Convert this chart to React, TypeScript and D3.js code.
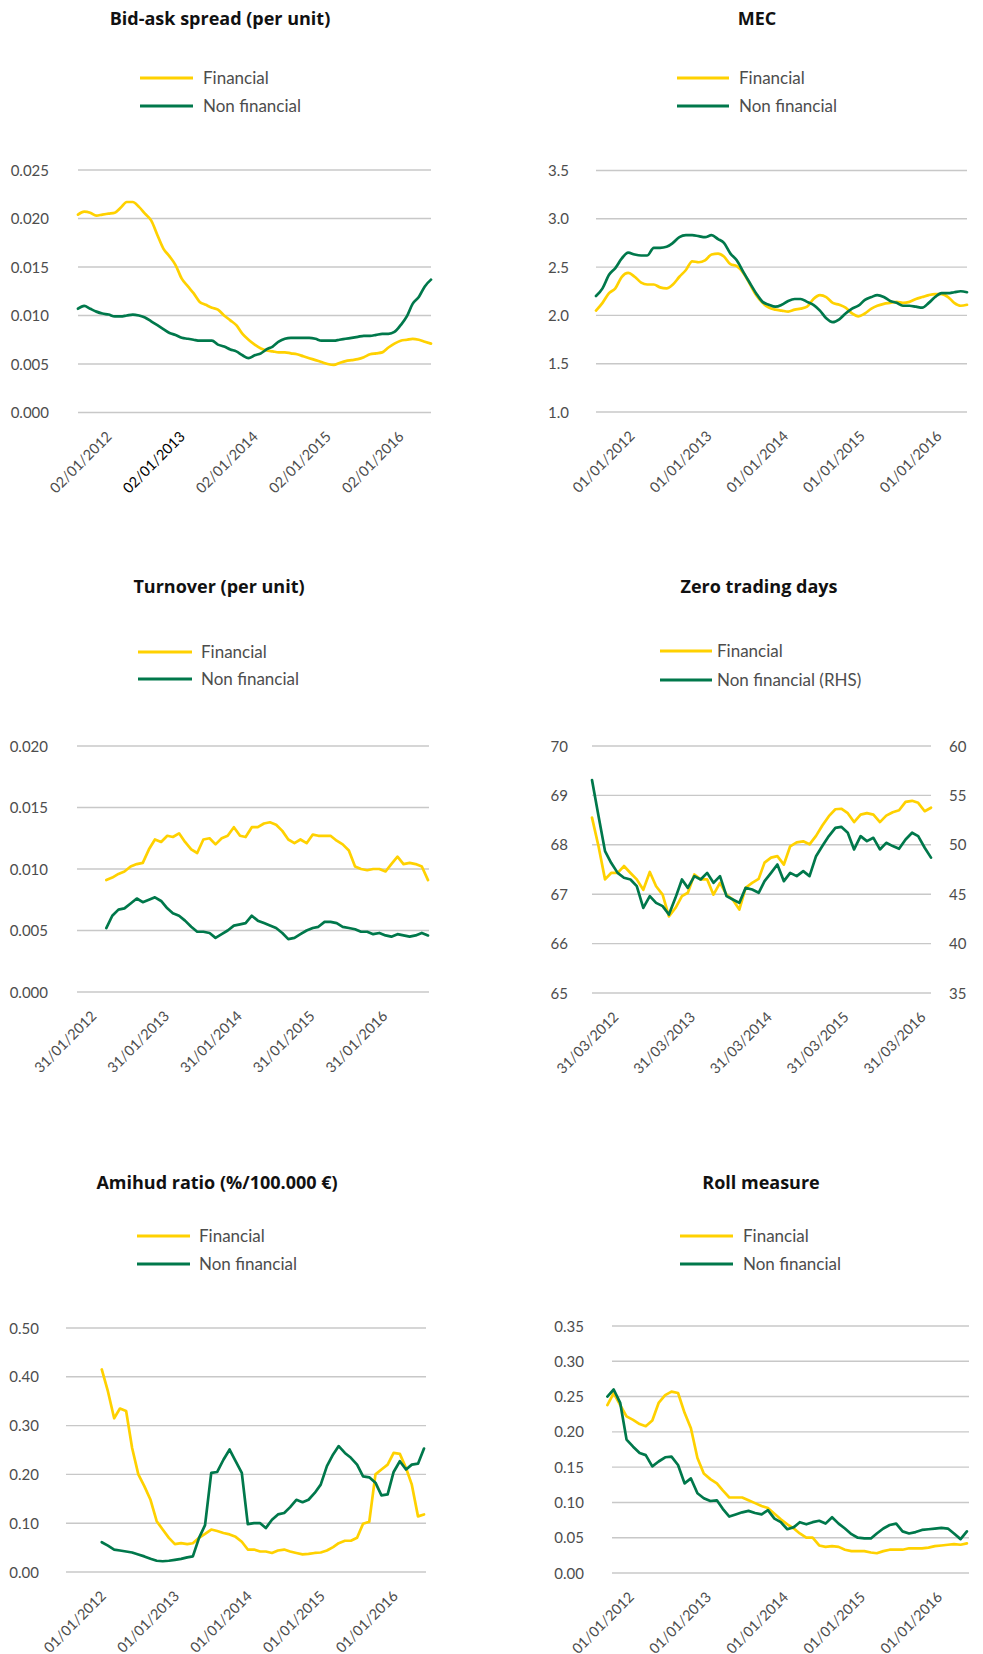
import React from 'react';
import * as d3 from 'd3';

const YELLOW = '#ffd100';
const GREEN = '#00784b';
const GRID = '#c8c8c8';
const FONT = 'Lato, "Open Sans", sans-serif';

// ---- Bid-ask spread (monthly) ----
const bidAskXLabels = ['02/01/2012', '02/01/2013', '02/01/2014', '02/01/2015', '02/01/2016'];
const bidAskYTicks = [0, 0.005, 0.01, 0.015, 0.02, 0.025];
const bidAskFinancial = [0.0204, 0.0207, 0.0206, 0.0203, 0.0204, 0.0205, 0.0206, 0.0211, 0.0217, 0.0217, 0.0212, 0.0205, 0.0198, 0.0183, 0.0169, 0.0161, 0.0152, 0.0138, 0.0130, 0.0123, 0.0114, 0.0111, 0.0108, 0.0106, 0.0100, 0.0095, 0.0090, 0.0081, 0.0075, 0.0070, 0.0066, 0.0064, 0.0063, 0.0062, 0.0062, 0.0061, 0.0060, 0.0058, 0.0056, 0.0054, 0.0052, 0.0050, 0.0049, 0.0051, 0.0053, 0.0054, 0.0055, 0.0057, 0.0060, 0.0061, 0.0062, 0.0067, 0.0071, 0.0074, 0.0075, 0.0076, 0.0075, 0.0073, 0.0071];
const bidAskNonFinancial = [0.0107, 0.0110, 0.0107, 0.0104, 0.0102, 0.0101, 0.0099, 0.0099, 0.0100, 0.0101, 0.0100, 0.0098, 0.0094, 0.0090, 0.0086, 0.0082, 0.0080, 0.0077, 0.0076, 0.0075, 0.0074, 0.0074, 0.0074, 0.0070, 0.0068, 0.0065, 0.0063, 0.0059, 0.0056, 0.0059, 0.0061, 0.0065, 0.0068, 0.0073, 0.0076, 0.0077, 0.0077, 0.0077, 0.0077, 0.0076, 0.0074, 0.0074, 0.0074, 0.0075, 0.0076, 0.0077, 0.0078, 0.0079, 0.0079, 0.0080, 0.0081, 0.0081, 0.0083, 0.0090, 0.0099, 0.0112, 0.0119, 0.0130, 0.0137];

// ---- MEC (monthly) ----
const mecXLabels = ['01/01/2012', '01/01/2013', '01/01/2014', '01/01/2015', '01/01/2016'];
const mecYTicks = [1.0, 1.5, 2.0, 2.5, 3.0, 3.5];
const mecFinancial = [2.05, 2.13, 2.23, 2.28, 2.40, 2.44, 2.40, 2.34, 2.32, 2.32, 2.29, 2.28, 2.32, 2.40, 2.47, 2.56, 2.55, 2.57, 2.63, 2.64, 2.61, 2.53, 2.51, 2.44, 2.33, 2.21, 2.13, 2.08, 2.06, 2.05, 2.04, 2.06, 2.07, 2.09, 2.17, 2.21, 2.19, 2.13, 2.11, 2.08, 2.02, 1.99, 2.02, 2.07, 2.10, 2.12, 2.13, 2.14, 2.13, 2.14, 2.17, 2.19, 2.21, 2.22, 2.22, 2.19, 2.13, 2.10, 2.11];
const mecNonFinancial = [2.20, 2.28, 2.42, 2.49, 2.59, 2.65, 2.63, 2.62, 2.62, 2.70, 2.70, 2.71, 2.75, 2.81, 2.83, 2.83, 2.82, 2.81, 2.83, 2.79, 2.75, 2.64, 2.57, 2.45, 2.34, 2.23, 2.14, 2.11, 2.09, 2.11, 2.15, 2.17, 2.17, 2.14, 2.11, 2.05, 1.97, 1.93, 1.96, 2.02, 2.07, 2.10, 2.16, 2.19, 2.21, 2.19, 2.15, 2.13, 2.10, 2.10, 2.09, 2.08, 2.13, 2.19, 2.23, 2.23, 2.24, 2.25, 2.24];

// ---- Turnover (monthly) ----
const turnoverXLabels = ['31/01/2012', '31/01/2013', '31/01/2014', '31/01/2015', '31/01/2016'];
const turnoverYTicks = [0, 0.005, 0.01, 0.015, 0.02];
const turnoverFinancial = [0.0091, 0.0093, 0.0096, 0.0098, 0.0102, 0.0104, 0.0105, 0.0116, 0.0124, 0.0122, 0.0127, 0.0126, 0.0129, 0.0122, 0.0116, 0.0113, 0.0124, 0.0125, 0.0120, 0.0125, 0.0127, 0.0134, 0.0127, 0.0126, 0.0134, 0.0134, 0.0137, 0.0138, 0.0136, 0.0131, 0.0124, 0.0121, 0.0124, 0.0121, 0.0128, 0.0127, 0.0127, 0.0127, 0.0123, 0.0120, 0.0115, 0.0102, 0.0100, 0.0099, 0.0100, 0.0100, 0.0098, 0.0104, 0.0110, 0.0104, 0.0105, 0.0104, 0.0102, 0.0091];
const turnoverNonFinancial = [0.0052, 0.0062, 0.0067, 0.0068, 0.0072, 0.0076, 0.0073, 0.0075, 0.0077, 0.0074, 0.0068, 0.0064, 0.0062, 0.0058, 0.0053, 0.0049, 0.0049, 0.0048, 0.0044, 0.0047, 0.0050, 0.0054, 0.0055, 0.0056, 0.0062, 0.0058, 0.0056, 0.0054, 0.0052, 0.0048, 0.0043, 0.0044, 0.0047, 0.0050, 0.0052, 0.0053, 0.0057, 0.0057, 0.0056, 0.0053, 0.0052, 0.0051, 0.0049, 0.0049, 0.0047, 0.0048, 0.0046, 0.0045, 0.0047, 0.0046, 0.0045, 0.0046, 0.0048, 0.0046];

// ---- Zero trading days (monthly, non financial on right axis) ----
const zeroXLabels = ['31/03/2012', '31/03/2013', '31/03/2014', '31/03/2015', '31/03/2016'];
const zeroYTicks = [65, 66, 67, 68, 69, 70];
const zeroRightTicks = [35, 40, 45, 50, 55, 60];
const zeroFinancial = [68.55, 67.97, 67.30, 67.43, 67.43, 67.57, 67.43, 67.30, 67.09, 67.45, 67.16, 66.99, 66.55, 66.72, 66.96, 67.03, 67.40, 67.30, 67.30, 66.99, 67.23, 66.99, 66.89, 66.69, 67.13, 67.23, 67.31, 67.64, 67.74, 67.77, 67.60, 67.97, 68.05, 68.07, 68.01, 68.18, 68.39, 68.58, 68.72, 68.73, 68.64, 68.46, 68.61, 68.64, 68.61, 68.46, 68.59, 68.66, 68.70, 68.87, 68.89, 68.85, 68.68, 68.75];
const zeroNonFinancial = [56.55, 52.91, 49.36, 48.18, 47.16, 46.66, 46.49, 45.81, 43.62, 44.80, 44.12, 43.79, 42.94, 44.63, 46.49, 45.64, 46.83, 46.49, 47.16, 46.15, 46.83, 44.80, 44.46, 44.12, 45.64, 45.47, 45.14, 46.32, 47.16, 48.01, 46.32, 47.16, 46.83, 47.33, 46.83, 48.85, 49.87, 50.88, 51.72, 51.82, 51.22, 49.53, 50.88, 50.37, 50.71, 49.53, 50.20, 49.87, 49.60, 50.54, 51.22, 50.88, 49.70, 48.70];

// ---- Amihud ratio (monthly) ----
const amihudXLabels = ['01/01/2012', '01/01/2013', '01/01/2014', '01/01/2015', '01/01/2016'];
const amihudYTicks = [0, 0.1, 0.2, 0.3, 0.4, 0.5];
const amihudFinancial = [0.415, 0.370, 0.315, 0.335, 0.330, 0.254, 0.200, 0.176, 0.148, 0.104, 0.087, 0.070, 0.057, 0.059, 0.057, 0.059, 0.070, 0.078, 0.087, 0.084, 0.080, 0.077, 0.072, 0.062, 0.046, 0.046, 0.042, 0.042, 0.039, 0.044, 0.046, 0.042, 0.039, 0.036, 0.037, 0.039, 0.040, 0.044, 0.051, 0.059, 0.064, 0.064, 0.070, 0.099, 0.103, 0.200, 0.210, 0.220, 0.244, 0.242, 0.213, 0.179, 0.114, 0.118];
const amihudNonFinancial = [0.061, 0.054, 0.046, 0.044, 0.042, 0.040, 0.036, 0.032, 0.027, 0.023, 0.022, 0.023, 0.025, 0.027, 0.030, 0.032, 0.070, 0.096, 0.203, 0.205, 0.230, 0.251, 0.227, 0.203, 0.098, 0.100, 0.100, 0.090, 0.107, 0.118, 0.121, 0.133, 0.148, 0.143, 0.148, 0.162, 0.179, 0.217, 0.241, 0.258, 0.244, 0.234, 0.220, 0.196, 0.194, 0.183, 0.157, 0.159, 0.205, 0.227, 0.210, 0.220, 0.222, 0.253];

// ---- Roll measure (monthly) ----
const rollXLabels = ['01/01/2012', '01/01/2013', '01/01/2014', '01/01/2015', '01/01/2016'];
const rollYTicks = [0, 0.05, 0.1, 0.15, 0.2, 0.25, 0.3, 0.35];
const rollFinancial = [0.238, 0.255, 0.238, 0.222, 0.217, 0.211, 0.208, 0.216, 0.241, 0.252, 0.257, 0.255, 0.227, 0.205, 0.163, 0.141, 0.133, 0.127, 0.117, 0.107, 0.107, 0.107, 0.103, 0.099, 0.095, 0.092, 0.084, 0.076, 0.069, 0.063, 0.056, 0.050, 0.050, 0.039, 0.037, 0.038, 0.037, 0.033, 0.031, 0.031, 0.031, 0.029, 0.028, 0.031, 0.033, 0.033, 0.033, 0.035, 0.035, 0.035, 0.036, 0.038, 0.039, 0.040, 0.041, 0.040, 0.042];
const rollNonFinancial = [0.250, 0.260, 0.241, 0.189, 0.179, 0.170, 0.167, 0.151, 0.158, 0.164, 0.165, 0.153, 0.127, 0.134, 0.113, 0.106, 0.102, 0.103, 0.091, 0.080, 0.083, 0.086, 0.088, 0.085, 0.083, 0.089, 0.077, 0.072, 0.062, 0.065, 0.072, 0.069, 0.072, 0.074, 0.070, 0.079, 0.070, 0.063, 0.055, 0.050, 0.049, 0.049, 0.056, 0.063, 0.068, 0.070, 0.059, 0.056, 0.058, 0.061, 0.062, 0.063, 0.064, 0.063, 0.056, 0.048, 0.059];

type Series = { start: string; values: number[]; color: string; right?: boolean };
type Spec = {
  title: string; titleX: number; titleY: number;
  legend: string[]; legX1: number; legX2: number; legTextX: number; legY: number[];
  left: number; right: number; top: number; bottom: number;
  domain: [string, string];
  xLabels: string[]; darkLabel?: number;
  yTicks: number[]; yFormat: string; yLabelX: number;
  rightTicks?: number[]; rightLabelX?: number;
  smooth?: boolean;
  series: Series[];
};

const parseDMY = (s: string) => {
  const [d, m, y] = s.split('/').map(Number);
  return new Date(Date.UTC(y, m - 1, d));
};

const specs: Spec[] = [
  {
    title: 'Bid-ask spread (per unit)', titleX: 220, titleY: 25,
    legend: ['Financial', 'Non financial'], legX1: 140, legX2: 193, legTextX: 203, legY: [78, 106],
    left: 78, right: 431, top: 170, bottom: 412.5,
    domain: ['2011-08-01', '2016-06-01'], xLabels: bidAskXLabels, darkLabel: 1,
    yTicks: bidAskYTicks, yFormat: '.3f', yLabelX: 49, smooth: true,
    series: [
      { start: '2011-08-01', values: bidAskFinancial, color: YELLOW },
      { start: '2011-08-01', values: bidAskNonFinancial, color: GREEN },
    ],
  },
  {
    title: 'MEC', titleX: 757, titleY: 25,
    legend: ['Financial', 'Non financial'], legX1: 677, legX2: 729, legTextX: 739, legY: [78, 106],
    left: 596, right: 967, top: 170.5, bottom: 412,
    domain: ['2011-07-15', '2016-05-15'], xLabels: mecXLabels,
    yTicks: mecYTicks, yFormat: '.1f', yLabelX: 569, smooth: true,
    series: [
      { start: '2011-07-15', values: mecFinancial, color: YELLOW },
      { start: '2011-07-15', values: mecNonFinancial, color: GREEN },
    ],
  },
  {
    title: 'Turnover (per unit)', titleX: 219, titleY: 593,
    legend: ['Financial', 'Non financial'], legX1: 138, legX2: 192, legTextX: 201, legY: [652, 679],
    left: 77, right: 429, top: 746, bottom: 992,
    domain: ['2011-11-10', '2016-09-10'], xLabels: turnoverXLabels,
    yTicks: turnoverYTicks, yFormat: '.3f', yLabelX: 48,
    series: [
      { start: '2012-04-05', values: turnoverFinancial, color: YELLOW },
      { start: '2012-04-05', values: turnoverNonFinancial, color: GREEN },
    ],
  },
  {
    title: 'Zero trading days', titleX: 759, titleY: 593,
    legend: ['Financial', 'Non financial (RHS)'], legX1: 660, legX2: 712, legTextX: 717, legY: [651, 680],
    left: 592, right: 931, top: 746, bottom: 993,
    domain: ['2011-12-10', '2016-05-10'], xLabels: zeroXLabels,
    yTicks: zeroYTicks, yFormat: 'd', yLabelX: 568,
    rightTicks: zeroRightTicks, rightLabelX: 949,
    series: [
      { start: '2011-12-10', values: zeroFinancial, color: YELLOW },
      { start: '2011-12-10', values: zeroNonFinancial, color: GREEN, right: true },
    ],
  },
  {
    title: 'Amihud ratio (%/100.000 €)', titleX: 217, titleY: 1189,
    legend: ['Financial', 'Non financial'], legX1: 137, legX2: 190, legTextX: 199, legY: [1236, 1264],
    left: 66, right: 426, top: 1328, bottom: 1572,
    domain: ['2011-06-30', '2016-06-05'], xLabels: amihudXLabels,
    yTicks: amihudYTicks, yFormat: '.2f', yLabelX: 39,
    series: [
      { start: '2011-12-26', values: amihudFinancial, color: YELLOW },
      { start: '2011-12-26', values: amihudNonFinancial, color: GREEN },
    ],
  },
  {
    title: 'Roll measure', titleX: 761, titleY: 1189,
    legend: ['Financial', 'Non financial'], legX1: 680, legX2: 733, legTextX: 743, legY: [1236, 1264],
    left: 612, right: 969, top: 1326, bottom: 1573,
    domain: ['2011-10-03', '2016-05-21'], xLabels: rollXLabels,
    yTicks: rollYTicks, yFormat: '.2f', yLabelX: 584,
    series: [
      { start: '2011-09-11', values: rollFinancial, color: YELLOW },
      { start: '2011-09-11', values: rollNonFinancial, color: GREEN },
    ],
  },
];

function Chart({ spec }: { spec: Spec }) {
  const x = d3.scaleUtc()
    .domain([new Date(spec.domain[0]), new Date(spec.domain[1])])
    .range([spec.left, spec.right]);
  const y = d3.scaleLinear().domain(d3.extent(spec.yTicks) as [number, number]).range([spec.bottom, spec.top]);
  const yR = spec.rightTicks
    ? d3.scaleLinear().domain(d3.extent(spec.rightTicks) as [number, number]).range([spec.bottom, spec.top])
    : y;
  const fmt = d3.format(spec.yFormat);
  const colors = [YELLOW, GREEN];

  return (
    <g>
      <text x={spec.titleX} y={spec.titleY} textAnchor="middle" fontSize={18} fontWeight="bold"
        fontFamily='"Open Sans", Lato, sans-serif' fill="#111">
        {spec.title}
      </text>
      {spec.legend.map((name, i) => (
        <g key={name}>
          <line x1={spec.legX1} x2={spec.legX2} y1={spec.legY[i]} y2={spec.legY[i]} stroke={colors[i]} strokeWidth={3} />
          <text x={spec.legTextX} y={spec.legY[i] + 6} fontSize={17} fill="#4d4d4d">{name}</text>
        </g>
      ))}
      {spec.yTicks.map((t) => (
        <g key={t}>
          <line x1={spec.left} x2={spec.right} y1={y(t)} y2={y(t)} stroke={GRID} strokeWidth={1.4} />
          <text x={spec.yLabelX} y={y(t) + 5.5} textAnchor="end" fontSize={15} fill="#4d4d4d">{fmt(t)}</text>
        </g>
      ))}
      {spec.rightTicks && spec.rightTicks.map((t) => (
        <text key={'r' + t} x={spec.rightLabelX} y={yR(t) + 5.5} fontSize={15} fill="#4d4d4d">{d3.format('d')(t)}</text>
      ))}
      {spec.xLabels.map((lab, i) => {
        const px = x(parseDMY(lab)) + 4;
        const py = spec.bottom + 25;
        return (
          <text key={lab} transform={`translate(${px},${py}) rotate(-45)`} textAnchor="end" fontSize={14.5}
            fill={spec.darkLabel === i ? '#000' : '#4d4d4d'}>
            {lab}
          </text>
        );
      })}
      {spec.series.map((s, i) => {
        const start = new Date(s.start);
        const pts = s.values.map((v, k) => ({ date: d3.utcMonth.offset(start, k), value: v }));
        const ys = s.right ? yR : y;
        const path = d3.line<{ date: Date; value: number }>()
          .x((d) => x(d.date))
          .y((d) => ys(d.value))
          .curve(spec.smooth ? d3.curveMonotoneX : d3.curveLinear)(pts);
        return <path key={i} d={path || ''} fill="none" stroke={s.color} strokeWidth={2.7} strokeLinejoin="round" strokeLinecap="round" />;
      })}
    </g>
  );
}

export default function App() {
  return (
    <svg width={983} height={1654} style={{ position: 'absolute', left: 0, top: 0, background: '#fff' }} fontFamily={FONT}>
      <rect width={983} height={1654} fill="#fff" />
      {specs.map((s) => <Chart key={s.title} spec={s} />)}
    </svg>
  );
}
